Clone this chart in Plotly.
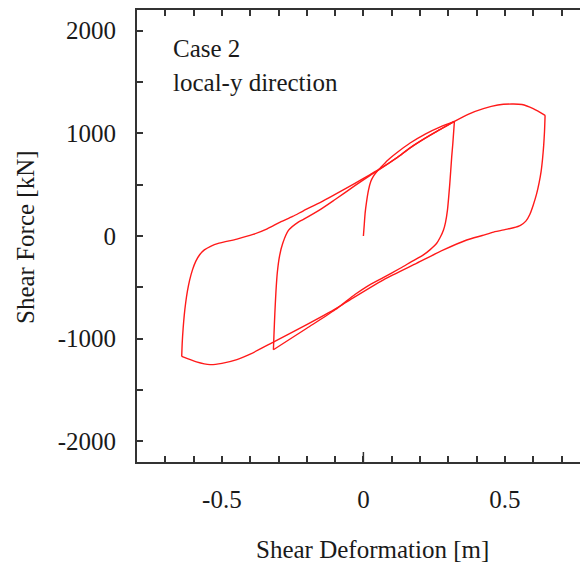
import plotly.graph_objects as go

# Hysteresis response: shear deformation [m] vs shear force [kN], split into loading branches
initial_x = [0.0, 0.003, 0.006, 0.011, 0.018, 0.026, 0.035, 0.047, 0.059, 0.085, 0.118, 0.165, 0.22, 0.27, 0.3216]
initial_f = [0, 110, 220, 330, 447, 530, 580, 625, 660, 735, 810, 905, 995, 1060, 1116]

unload1_x = [0.3216, 0.316, 0.312, 0.305, 0.297, 0.29, 0.283, 0.272, 0.259, 0.235, 0.212, 0.17, 0.13, 0.07, 0.012, -0.03, -0.1, -0.2, -0.318]
unload1_f = [1116, 900, 770, 500, 252, 130, 58, -10, -71, -135, -184, -250, -314, -405, -492, -570, -718, -898, -1107]

reload1_x = [-0.318, -0.316, -0.313, -0.309, -0.304, -0.296, -0.285, -0.265, -0.23, -0.212, -0.15, -0.1, -0.03, 0.024, 0.059, 0.118, 0.165, 0.22, 0.27, 0.3216,
             0.37, 0.424, 0.475, 0.524, 0.56, 0.6, 0.642]
reload1_f = [-1107, -960, -760, -540, -350, -190, -70, 55, 135, 162, 262, 355, 490, 590, 652, 760, 858, 955, 1035, 1116,
             1185, 1240, 1275, 1285, 1280, 1240, 1175]

unload2_x = [0.642, 0.64, 0.637, 0.633, 0.628, 0.621, 0.612, 0.6, 0.588, 0.574, 0.555, 0.53, 0.5, 0.46, 0.42, 0.365, 0.283, 0.189, 0.071, -0.047,
             -0.094, -0.212, -0.33, -0.4, -0.447, -0.5, -0.542, -0.59, -0.642]
unload2_f = [1175, 1020, 880, 750, 630, 520, 410, 300, 210, 145, 104, 80, 62, 38, 5, -39, -136, -265, -427, -621,
             -702, -880, -1050, -1150, -1204, -1240, -1252, -1225, -1172]

reload2_x = [-0.642, -0.64, -0.637, -0.633, -0.628, -0.622, -0.614, -0.604, -0.592, -0.578, -0.562, -0.54, -0.51, -0.447, -0.39, -0.34, -0.294, -0.25, -0.212,
             -0.15, -0.1, -0.03, 0.024, 0.059, 0.118, 0.165, 0.22, 0.27, 0.3216]
reload2_f = [-1172, -1030, -900, -770, -650, -540, -430, -330, -245, -180, -135, -100, -70, -30, 15, 70, 135, 190, 245,
             330, 405, 512, 598, 655, 762, 858, 955, 1035, 1116]

branches = [(initial_x, initial_f), (unload1_x, unload1_f), (reload1_x, reload1_f),
            (unload2_x, unload2_f), (reload2_x, reload2_f)]

x_tick_vals = [-0.7, -0.6, -0.5, -0.4, -0.3, -0.2, -0.1, 0.0, 0.1, 0.2, 0.3, 0.4, 0.5, 0.6, 0.7]
x_tick_text = ["", "", "-0.5", "", "", "", "", "0", "", "", "", "", "0.5", "", ""]
y_tick_vals = [-2000, -1500, -1000, -500, 0, 500, 1000, 1500, 2000]
y_tick_text = ["-2000", "", "-1000", "", "0", "", "1000", "", "2000"]

FONT = "Liberation Serif, Times New Roman, serif"
INK = "#1a1a1a"
AXIS = "#333333"
FS = 25

fig = go.Figure()
for bx, bf in branches:
    fig.add_trace(go.Scatter(x=bx, y=bf, mode="lines",
                             line=dict(color="#ff1a1a", width=1.4, shape="spline", smoothing=0.7),
                             showlegend=False, hoverinfo="skip"))

W, H = 580, 565
L, T, B = 137, 10, 103
plot_w = W - L
ph = H - T - B
fig.update_layout(
    width=W, height=H,
    margin=dict(l=L, r=0, t=T, b=B),
    paper_bgcolor="white", plot_bgcolor="white",
    font=dict(family=FONT, size=FS, color=INK),
    xaxis=dict(range=[-0.8, -0.8 + plot_w / 283.0], tickvals=x_tick_vals, ticktext=x_tick_text,
               ticks="inside", ticklen=6, tickwidth=1.5, tickcolor=AXIS,
               showline=True, linecolor=AXIS, linewidth=2, mirror="ticks",
               showgrid=False, zeroline=False, ticklabelstandoff=14,
               tickfont=dict(family=FONT, size=FS, color=INK)),
    yaxis=dict(range=[-2200, 2200], tickvals=y_tick_vals, ticktext=y_tick_text,
               ticks="inside", ticklen=6, tickwidth=1.5, tickcolor=AXIS,
               showline=True, linecolor=AXIS, linewidth=2, mirror=False,
               showgrid=False, zeroline=False, ticklabelstandoff=14,
               tickfont=dict(family=FONT, size=FS, color=INK)),
)

# longer tick marking zero deformation
fig.add_shape(type="line", xref="x", yref="paper", x0=0, x1=0, y0=0, y1=10 / ph,
              line=dict(color=AXIS, width=1.5))

fig.add_annotation(text="Case 2", xref="paper", yref="paper",
                   x=(171 - L) / plot_w, y=(H - B - 49) / ph, xanchor="left", yanchor="middle",
                   showarrow=False, font=dict(family=FONT, size=FS, color=INK))
fig.add_annotation(text="local-y direction", xref="paper", yref="paper",
                   x=(171 - L) / plot_w, y=(H - B - 82) / ph, xanchor="left", yanchor="middle",
                   showarrow=False, font=dict(family=FONT, size=FS, color=INK))
fig.add_annotation(text="Shear Deformation [m]", xref="paper", yref="paper",
                   x=(372 - L) / plot_w, y=(H - B - 549) / ph, xanchor="center", yanchor="middle",
                   showarrow=False, font=dict(family=FONT, size=FS, color=INK))
fig.add_annotation(text="Shear Force [kN]", xref="paper", yref="paper",
                   x=(25 - L) / plot_w, y=(H - B - 237) / ph, xanchor="center", yanchor="middle",
                   textangle=-90, showarrow=False, font=dict(family=FONT, size=FS, color=INK))

fig.write_html("out.html")
